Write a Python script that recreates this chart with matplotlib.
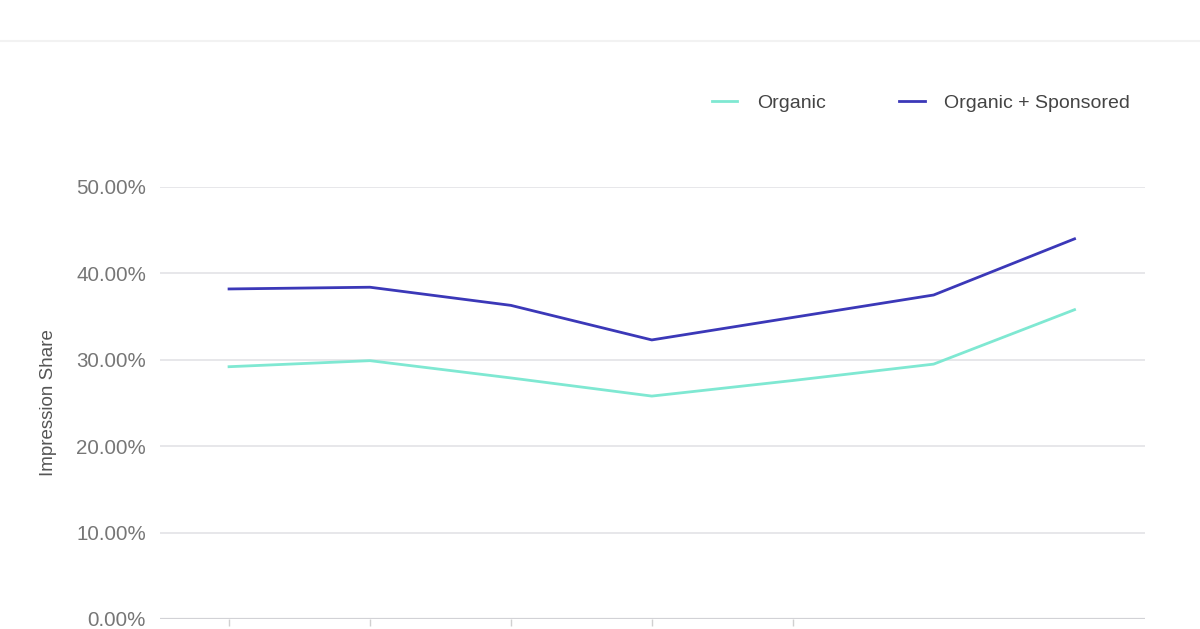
import numpy as np
import matplotlib
matplotlib.use("Agg")
import matplotlib.pyplot as plt
from matplotlib.lines import Line2D
from matplotlib.ticker import FuncFormatter

plt.rcParams['font.family'] = ['Liberation Sans', 'DejaVu Sans']

# values (percent)
periods = [0, 1, 2, 3, 4, 5, 6]
organic = [29.2, 29.9, 27.9, 25.8, 27.6, 29.5, 35.8]
organic_sponsored = [38.2, 38.4, 36.3, 32.3, 34.9, 37.5, 44.0]
y_ticks = [0, 10, 20, 30, 40, 50]
x_tick_pos = [0, 1, 2, 3, 4]   # only these ticks are drawn in the reference

mint = '#7fe8d2'
indigo = '#3b38b8'

fig = plt.figure(figsize=(12, 6.29), dpi=100)
ax = fig.add_axes([160 / 1200, 1 - 619 / 629, 985 / 1200, 432 / 629])

ax.plot(periods, organic, color=mint, lw=2.0, label='Organic', solid_joinstyle='round')
ax.plot(periods, organic_sponsored, color=indigo, lw=2.0, label='Organic + Sponsored',
        solid_joinstyle='round')

ax.set_xlim(-0.49, 6.5)
ax.set_ylim(0, 50)
ax.set_yticks(y_ticks)
ax.yaxis.set_major_formatter(FuncFormatter(lambda v, p: f'{v:.2f}%'))
ax.set_xticks(x_tick_pos)
ax.set_xticklabels([''] * len(x_tick_pos))

for s in ax.spines.values():
    s.set_visible(False)
ax.grid(axis='y', color='#e3e3e6', lw=1.2)
ax.axhline(0, color='#d2d2d6', lw=1.6, zorder=1)
ax.set_axisbelow(True)

ax.tick_params(axis='y', length=0, pad=10, labelsize=14.8, labelcolor='#767676')
ax.tick_params(axis='x', length=5, width=1, color='#d0d0d0', direction='out')

ax.set_ylabel('Impression Share', fontsize=13.5, color='#555555')
ax.yaxis.set_label_coords(-(160 - 57) / 985, 0.5)

fig.legend(loc='center left', bbox_to_anchor=(712 / 1200, 1 - 103 / 629),
           ncol=2, frameon=False, fontsize=14.0, handlelength=1.3,
           handletextpad=1.0, columnspacing=3.8, borderpad=0, borderaxespad=0,
           labelcolor='#444444')

# thin separator under the (cropped) header
fig.add_artist(Line2D([0, 1], [1 - 41 / 629, 1 - 41 / 629], color='#f2f2f2', lw=1.5))

fig.savefig('out.png', dpi=100, facecolor='white')
